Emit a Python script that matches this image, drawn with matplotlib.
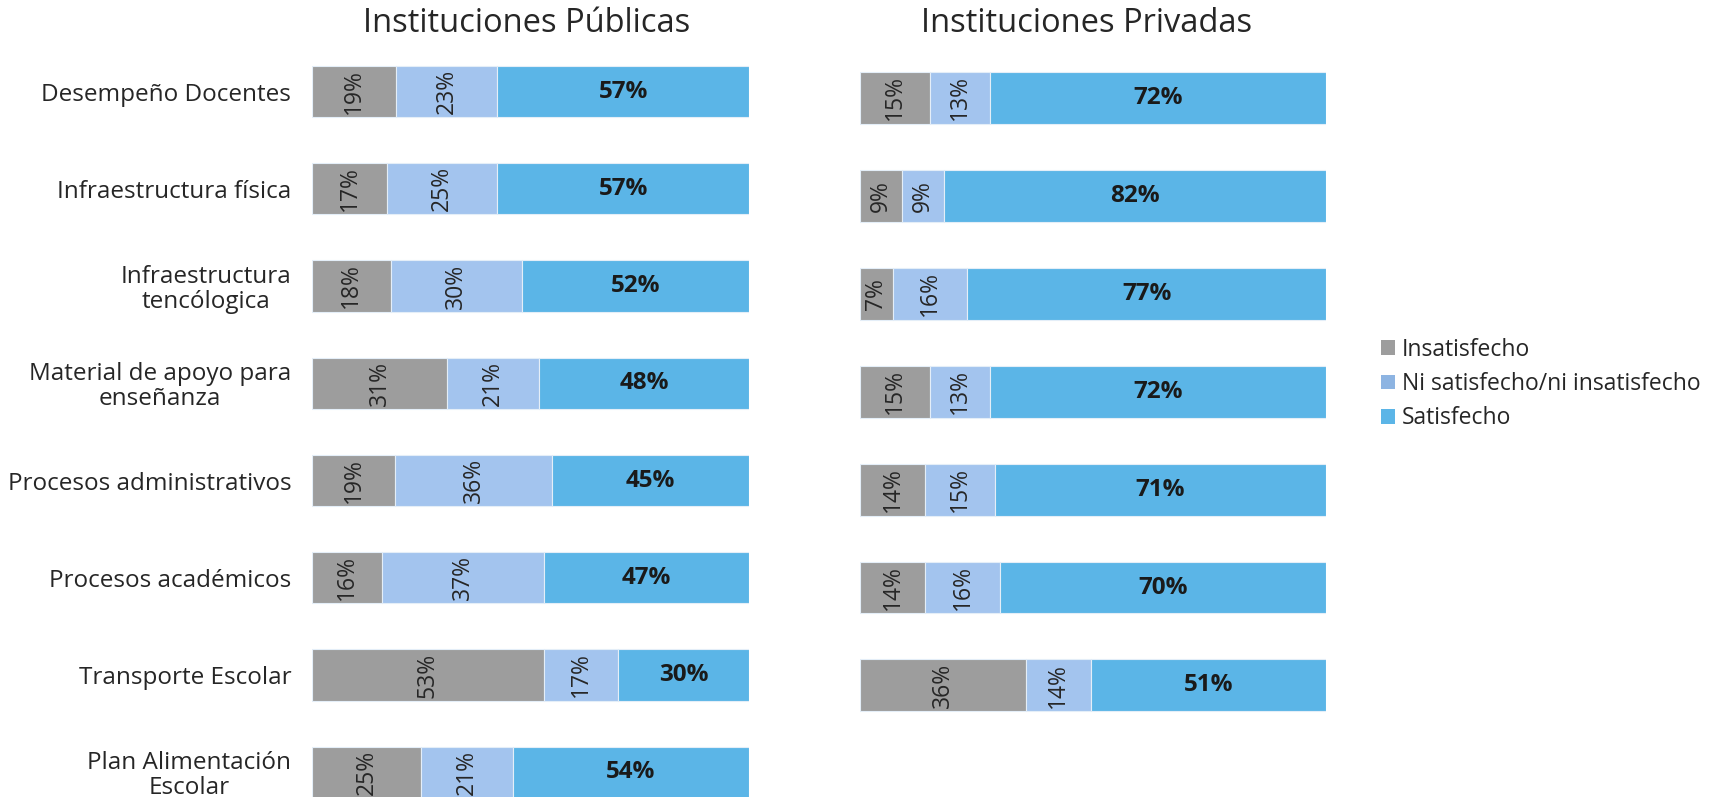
import matplotlib
matplotlib.use("Agg")
import matplotlib.pyplot as plt
import numpy as np
from matplotlib.patches import Patch

plt.rcParams['font.family'] = ['Open Sans', 'Lato', 'DejaVu Sans']

categories_pub = ["Desempeño Docentes", "Infraestructura física",
                  "Infraestructura\ntencólogica", "Material de apoyo para\nenseñanza",
                  "Procesos administrativos", "Procesos académicos",
                  "Transporte Escolar", "Plan Alimentación\nEscolar"]
pub_insat = [19, 17, 18, 31, 19, 16, 53, 25]
pub_ni = [23, 25, 30, 21, 36, 37, 17, 21]
pub_sat = [57, 57, 52, 48, 45, 47, 30, 54]

priv_insat = [15, 9, 7, 15, 14, 14, 36]
priv_ni = [13, 9, 16, 13, 15, 16, 14]
priv_sat = [72, 82, 77, 72, 71, 70, 51]

series_names = ["Insatisfecho", "Ni satisfecho/ni insatisfecho", "Satisfecho"]
colors = ["#9D9D9D", "#A3C4EE", "#5BB5E7"]
legend_colors = ["#9D9D9D", "#8DB4E2", "#5BB5E7"]

W, H = 1718, 797
fig = plt.figure(figsize=(W / 100, H / 100), dpi=100)


def make_axes(left_px, right_px, c0_px, step_px, n):
    top = c0_px - 0.5 * step_px
    bottom = c0_px + (n - 0.5) * step_px
    return fig.add_axes([left_px / W, 1 - bottom / H, (right_px - left_px) / W,
                         (bottom - top) / H])


def draw(ax, insat, ni, sat, labels=None, bar_h=0.53):
    n = len(insat)
    y = np.arange(n)
    data = np.array([insat, ni, sat], dtype=float)
    tot = data.sum(axis=0)
    norm = data / tot * 100
    left = np.zeros(n)
    for k in range(3):
        ax.barh(y, norm[k], left=left, height=bar_h, color=colors[k],
                edgecolor="#E4EEF8", linewidth=0.8)
        for i in range(n):
            cx = left[i] + norm[k][i] / 2
            txt = f"{int(data[k][i])}%"
            if k < 2:
                ax.text(cx, y[i], txt, rotation=90, ha="center", va="center",
                        fontsize=16.5, color="#262626")
            else:
                ax.text(cx, y[i], txt, ha="center", va="center",
                        fontsize=17.5, fontweight="bold", color="#1A1A1A")
        left += norm[k]
    ax.set_xlim(0, 100)
    ax.set_ylim(n - 0.5, -0.5)
    ax.set_xticks([])
    for s in ax.spines.values():
        s.set_visible(False)
    if labels is not None:
        ax.set_yticks(y)
        ax.set_yticklabels(labels, fontsize=17.5, color="#262626",
                           multialignment="center", linespacing=1.05)
        ax.tick_params(axis="y", length=0, pad=15)
    else:
        ax.set_yticks([])


ax1 = make_axes(312, 749, 91.5, 97.25, 8)
draw(ax1, pub_insat, pub_ni, pub_sat, categories_pub, bar_h=0.525)
ax2 = make_axes(860, 1326, 98, 97.9, 7)
draw(ax2, priv_insat, priv_ni, priv_sat, None, bar_h=0.53)

fig.text(527 / W, 1 - 23 / H, "Instituciones Públicas", ha="center", va="center",
         fontsize=23.5, color="#262626")
fig.text(1087 / W, 1 - 23 / H, "Instituciones Privadas", ha="center", va="center",
         fontsize=23.5, color="#262626")

handles = [Patch(facecolor=c, edgecolor="none") for c in legend_colors]
fig.legend(handles, series_names, loc="center left",
           bbox_to_anchor=(1372 / W, 1 - 384 / H), frameon=False, fontsize=16.5,
           handlelength=0.6, handleheight=0.6, handletextpad=0.3,
           labelspacing=0.45, labelcolor="#262626", borderaxespad=0)

fig.savefig("out.png", dpi=100)
